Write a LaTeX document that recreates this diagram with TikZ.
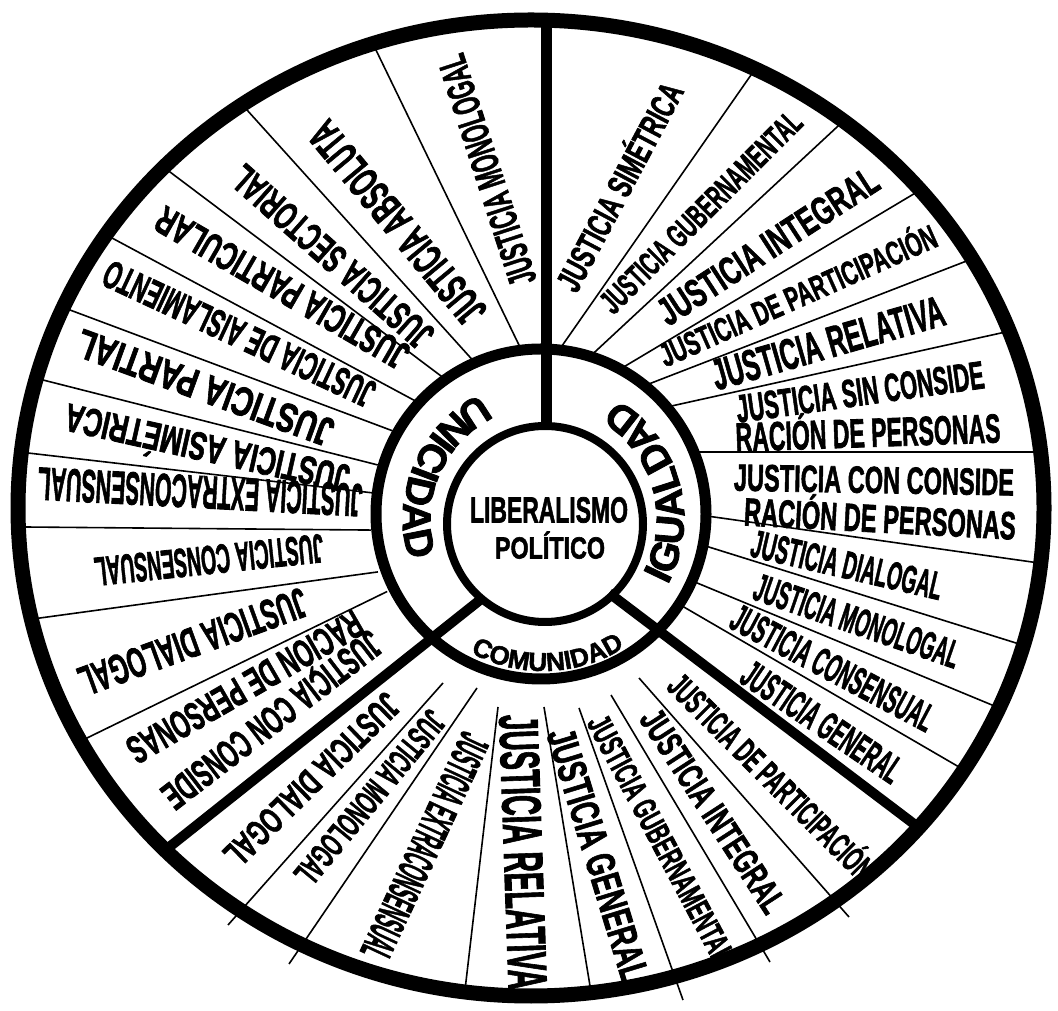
\documentclass[tikz,border=0pt]{standalone}
\usepackage{fontspec}
\setmainfont{Liberation Sans}[BoldFeatures={FakeBold=2}]
\usepackage{graphicx}
\usetikzlibrary{decorations.text}
\newcommand\fitlab[3]{\resizebox{#1pt}{#2pt}{\vphantom{X}\smash{#3}}}
\tikzset{
  lbl/.style={inner sep=0pt, font=\bfseries},
  spoke/.style={line width=1.6pt, shorten <=-8pt, shorten >=-8pt},
  bspoke/.style={line width=1.6pt},
  heavy/.style={line width=11pt},
  ringtext/.style={decorate, decoration={text along path, text align=center, text={#1}}}
}
\begin{document}
\begin{tikzpicture}[x=1pt,y=1pt]
\fill[white] (0,0) rectangle (1058,1010);
\useasboundingbox (0,0) rectangle (1058,1010);
% thin spokes, right sector
\draw[spoke] (564,667) -- (751,935);
\draw[spoke] (597,660) -- (837,883);
\draw[spoke] (627,645) -- (912,815);
\draw[spoke] (654,628) -- (964,748);
\draw[spoke] (676,605) -- (1001,677);
\draw[spoke] (702,558) -- (1032,558);
\draw[spoke] (714,493) -- (1032,448);
\draw[spoke] (712,462) -- (1016,367);
\draw[spoke] (702,425) -- (992,305);
\draw[spoke] (689,400) -- (959,243);
% bottom sector
\draw[bspoke] (639,332) -- (849,93);
\draw[bspoke] (611,315) -- (770,48);
\draw[bspoke] (579,302) -- (683,10);
\draw[bspoke,shorten >=-6pt] (544,303) -- (591,18);
\draw[bspoke,shorten >=-6pt] (498,303) -- (465,20);
\draw[bspoke] (477,322) -- (289,46);
\draw[bspoke] (443,327) -- (228,85);
% left sector
\draw[spoke] (380,415) -- (87,272);
\draw[spoke] (370,437) -- (40,392);
\draw[spoke] (363,480) -- (25,483);
\draw[spoke] (365,518) -- (28,557);
\draw[spoke] (370,547) -- (43,630);
\draw[spoke] (385,582) -- (70,700);
\draw[spoke] (408,613) -- (112,772);
\draw[spoke] (437,637) -- (170,838);
\draw[spoke] (468,655) -- (247,900);
\draw[spoke] (518,667) -- (375,962);
% circles
\draw[line width=15pt] (531,502) ellipse [x radius=513, y radius=488];
\draw[line width=11pt] (541,496) circle [radius=165];
\draw[line width=8pt] (545,486) circle [radius=98];
% heavy dividers
\draw[heavy] (546,586) -- (546,990);
\draw[line width=10pt] (609,417) -- (918,183);
\draw[line width=10pt] (480,410) -- (163,158);
% centre
\node[lbl] (lib) at (549,500) {\fitlab{158}{25}{LIBERALISMO}};
\node[lbl] (pol) at (550,462) {\fitlab{110}{21}{POLÍTICO}};
% ring words
\path[ringtext={|\bfseries\fontsize{40}{40}\selectfont|UNICIDAD}] (543,491) ++(107:140) arc[start angle=107, end angle=207, radius=140];
\path[ringtext={|\bfseries\fontsize{40}{40}\selectfont|IGUALDAD}] (543,491) ++(-36:141) arc[start angle=-36, end angle=66, radius=141];
\path[ringtext={|\bfseries\fontsize{26}{26}\selectfont|COMUNIDAD}] (543,491) ++(-125:152) arc[start angle=-125, end angle=-51, radius=152];
% right sector labels
\node[lbl,rotate=62] (r1) at (620,823) {\fitlab{230}{24}{JUSTICIA SIMÉTRICA}};
\node[lbl,rotate=45] (r2) at (701,798) {\fitlab{270}{23}{JUSTICIA GUBERNAMENTAL}};
\node[lbl,rotate=33] (r3) at (768,764) {\fitlab{255}{27}{JUSTICIA INTEGRAL}};
\node[lbl,rotate=24] (r4) at (798,714) {\fitlab{300}{23}{JUSTICIA DE PARTICIPACIÓN}};
\node[lbl,rotate=16] (r5) at (828,667) {\fitlab{240}{30}{JUSTICIA RELATIVA}};
\node[lbl,rotate=8] (r6a) at (860,618) {\fitlab{250}{27}{JUSTICIA SIN CONSIDE}};
\node[lbl,rotate=2] (r6b) at (868,577) {\fitlab{265}{28}{RACIÓN DE PERSONAS}};
\node[lbl,rotate=-1] (r7a) at (874,530) {\fitlab{280}{26}{JUSTICIA CON CONSIDE}};
\node[lbl,rotate=-3] (r7b) at (880,491) {\fitlab{272}{27}{RACIÓN DE PERSONAS}};
\node[lbl,rotate=-13] (r8) at (847,445) {\fitlab{195}{27}{JUSTICIA DIALOGAL}};
\node[lbl,rotate=-19] (r9) at (857,389) {\fitlab{215}{27}{JUSTICIA MONOLOGAL}};
\node[lbl,rotate=-28] (r10) at (833,342) {\fitlab{225}{27}{JUSTICIA CONSENSUAL}};
\node[lbl,rotate=-34] (r11) at (822,288) {\fitlab{185}{27}{JUSTICIA GENERAL}};
% bottom sector labels
\node[lbl,rotate=-45] (b1) at (771,233) {\fitlab{275}{24}{JUSTICIA DE PARTICIPACIÓN}};
\node[lbl,rotate=-57] (b2) at (713,199) {\fitlab{235}{25}{JUSTICIA INTEGRAL}};
\node[lbl,rotate=-62] (b3) at (661,171) {\fitlab{275}{23}{JUSTICIA GUBERNAMENTAL}};
\node[lbl,rotate=-73] (b4) at (598,155) {\fitlab{262}{28}{JUSTICIA GENERAL}};
\node[lbl,rotate=-88] (b5) at (523,158) {\fitlab{275}{38}{JUSTICIA RELATIVA}};
\node[lbl,rotate=-115] (b6) at (425,163) {\fitlab{245}{30}{JUSTICIA EXTRACONSENSUAL}};
\node[lbl,rotate=-129.5] (b7) at (370,212) {\fitlab{215}{24}{JUSTICIA MONOLOGAL}};
\node[lbl,rotate=-135.5] (b8) at (312,230) {\fitlab{230}{25}{JUSTICIA DIALOGAL}};
% left sector labels
\node[lbl,rotate=-142.5] (l1a) at (272,290) {\fitlab{265}{27}{JUSTICIA CON CONSIDE}};
\node[lbl,rotate=-150] (l1b) at (245,323) {\fitlab{265}{27}{RACIÓN DE PERSONAS}};
\node[lbl,rotate=-160] (l2) at (193,368) {\fitlab{240}{29}{JUSTICIA DIALOGAL}};
\node[lbl,rotate=-174] (l3) at (209,450) {\fitlab{230}{28}{JUSTICIA CONSENSUAL}};
\node[lbl,rotate=177] (l4) at (200,518) {\fitlab{325}{32}{JUSTICIA EXTRACONSENSUAL}};
\node[lbl,rotate=167.5] (l5) at (207,562) {\fitlab{290}{27}{JUSTICIA ASIMÉTRICA}};
\node[lbl,rotate=160] (l6) at (205,622) {\fitlab{270}{28}{JUSTICIA PARTIAL}};
\node[lbl,rotate=155] (l7) at (239,676) {\fitlab{295}{27}{JUSTICIA DE AISLAMIENTO}};
\node[lbl,rotate=150] (l8) at (282,722) {\fitlab{285}{27}{JUSTICIA PARTICULAR}};
\node[lbl,rotate=138.5] (l9) at (332,753) {\fitlab{255}{27}{JUSTICIA SECTORIAL}};
\node[lbl,rotate=129.7] (l10) at (397,787) {\fitlab{250}{30}{JUSTICIA ABSOLUTA}};
\node[lbl,rotate=108] (l11) at (487,840) {\fitlab{240}{27}{JUSTICIA MONOLOGAL}};
\end{tikzpicture}
\end{document}
